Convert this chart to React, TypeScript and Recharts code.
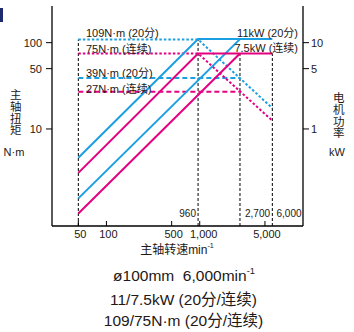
import React from 'react';
import { LineChart, Line, XAxis, YAxis } from 'recharts';

const BLUE = '#1a9fe3';
const PINK = '#e4007f';
const INK = '#231815';
const FONT = '"Liberation Sans", Arial, "Noto Sans CJK SC", sans-serif';

// spindle speed breakpoints (min-1)
const speedHigh = [50, 960, 6000];
const speedLow = [50, 2700];

// power in kW (right axis)
const power20High = [0.465, 11, 11];
const powerContHigh = [0.31, 7.5, 7.5];
const power20Low = [0.157, 11];
const powerContLow = [0.105, 7.5];

// torque in N·m (left axis)
const torque20 = [109, 109, 17.4];
const torqueCont = [75, 75, 12.5];
const torque20Low = [39, 39];
const torqueContLow = [27, 27];

// black dashed guides: speed, and torque where they stop
const guideSpeeds = [50, 960, 2700, 6000];
const guideTops = [109, 109, 75, 75];

const xTicks = [50, 100, 500, 1000, 5000];
const torqueTicks = [10, 50, 100];
const powerTicks = [1, 5, 10];

const T_DOMAIN = [0.751, 266];
const P_DOMAIN = [0.0751, 26.6];
const N_DOMAIN = [26.1, 12790];

const zip = (xs: number[], ys: number[]) => xs.map((n, i) => ({ n, v: ys[i] }));

const XTick = ({ x, y, payload }: any) => (
  <g>
    <line x1={x} x2={x} y1={y} y2={y - 5} stroke="#000" />
    <text
      x={x + (payload.value === 1000 ? 4 : 2)}
      y={y + 12}
      textAnchor="middle"
      fontSize={11}
      fill={INK}
      fontFamily={FONT}
    >
      {payload.value.toLocaleString('en-US')}
    </text>
  </g>
);

const Txt = ({ x, y, anchor = 'start', size = 11, children }: any) => {
  const tx = anchor === 'middle' ? '-50%' : anchor === 'end' ? '-100%' : '0';
  return (
    <div
      style={{
        position: 'absolute',
        left: x,
        top: y,
        transform: `translate(${tx},-50%)`,
        fontSize: size,
        lineHeight: 1,
        whiteSpace: 'nowrap',
        color: INK,
      }}
    >
      {children}
    </div>
  );
};

// vertical CJK axis title, one text run
const Vert = ({ x, top, text }: any) => (
  <div
    style={{
      position: 'absolute',
      left: x,
      top,
      transform: 'translateX(-50%)',
      writingMode: 'vertical-rl',
      textOrientation: 'upright',
      fontSize: 11.5,
      lineHeight: 1,
      letterSpacing: '0.2px',
      color: INK,
    }}
  >
    {text}
  </div>
);

const sup = { fontSize: '0.6em', verticalAlign: '0.7em' };

export default function App() {
  const axisTick = { fontSize: 11, fill: INK, fontFamily: FONT };
  return (
    <div
      style={{
        position: 'absolute',
        left: 0,
        top: 0,
        width: 354,
        height: 332,
        background: '#fff',
        fontFamily: FONT,
      }}
    >
      <LineChart width={354} height={332} margin={{ top: 6, right: 0, bottom: 0, left: 0 }}>
        <XAxis
          dataKey="n"
          type="number"
          scale="log"
          domain={N_DOMAIN}
          allowDataOverflow
          ticks={xTicks}
          interval={0}
          height={106}
          tickSize={0}
          tickMargin={0}
          tickLine={false}
          tick={<XTick />}
          axisLine={{ stroke: '#000', strokeWidth: 1.3 }}
        />
        <XAxis
          xAxisId="top"
          orientation="top"
          dataKey="n"
          type="number"
          scale="log"
          domain={N_DOMAIN}
          allowDataOverflow
          height={0}
          tick={false}
          tickLine={false}
          axisLine={{ stroke: '#000', strokeWidth: 1.3 }}
        />
        <YAxis
          yAxisId="T"
          orientation="left"
          scale="log"
          domain={T_DOMAIN}
          allowDataOverflow
          ticks={torqueTicks}
          interval={0}
          width={52}
          tickSize={6}
          tickMargin={4}
          tick={axisTick}
          tickLine={{ stroke: '#000' }}
          axisLine={{ stroke: '#000', strokeWidth: 1.3 }}
        />
        <YAxis
          yAxisId="P"
          orientation="right"
          scale="log"
          domain={P_DOMAIN}
          allowDataOverflow
          ticks={powerTicks}
          interval={0}
          width={51}
          tickSize={6}
          tickMargin={2}
          tick={axisTick}
          tickLine={{ stroke: '#000' }}
          axisLine={{ stroke: '#000', strokeWidth: 1.3 }}
        />

        {guideSpeeds.map((n, i) => (
          <Line
            key={'g' + n}
            yAxisId="T"
            data={[
              { n, v: T_DOMAIN[0] },
              { n, v: guideTops[i] },
            ]}
            dataKey="v"
            stroke="#000"
            strokeWidth={1}
            strokeDasharray="3 2"
            dot={false}
            isAnimationActive={false}
          />
        ))}

        <Line yAxisId="T" data={zip(speedLow, torque20Low)} dataKey="v" stroke={BLUE} strokeWidth={2} strokeDasharray="5 3" dot={false} isAnimationActive={false} />
        <Line yAxisId="T" data={zip(speedLow, torqueContLow)} dataKey="v" stroke={PINK} strokeWidth={2} strokeDasharray="5 3" dot={false} isAnimationActive={false} />
        <Line yAxisId="T" data={zip(speedHigh, torque20)} dataKey="v" stroke={BLUE} strokeWidth={2} strokeDasharray="2.5 2" dot={false} isAnimationActive={false} />
        <Line yAxisId="T" data={zip(speedHigh, torqueCont)} dataKey="v" stroke={PINK} strokeWidth={2} strokeDasharray="2.5 2" dot={false} isAnimationActive={false} />

        <Line yAxisId="P" data={zip(speedLow, power20Low)} dataKey="v" stroke={BLUE} strokeWidth={2} dot={false} isAnimationActive={false} />
        <Line yAxisId="P" data={zip(speedLow, powerContLow)} dataKey="v" stroke={PINK} strokeWidth={2} dot={false} isAnimationActive={false} />
        <Line yAxisId="P" data={zip(speedHigh, power20High)} dataKey="v" stroke={BLUE} strokeWidth={2} dot={false} isAnimationActive={false} />
        <Line yAxisId="P" data={zip(speedHigh, powerContHigh)} dataKey="v" stroke={PINK} strokeWidth={2} dot={false} isAnimationActive={false} />
      </LineChart>

      <div style={{ position: 'absolute', left: 0, top: 8, width: 3, height: 14, background: '#1d2a6e' }} />

      <Vert x={14} top={89} text="主轴扭矩" />
      <Txt x={14} y={152} anchor="middle">N·m</Txt>
      <Vert x={337} top={92} text="电机功率" />
      <Txt x={337} y={152} anchor="middle">kW</Txt>

      <Txt x={86} y={33}>109N·m (20分)</Txt>
      <Txt x={86} y={48.5}>75N·m (连续)</Txt>
      <Txt x={86} y={72.5}>39N·m (20分)</Txt>
      <Txt x={86} y={88.5}>27N·m (连续)</Txt>
      <Txt x={298} y={32.5} anchor="end">11kW (20分)</Txt>
      <Txt x={298} y={48} anchor="end">7.5kW (连续)</Txt>

      <Txt x={196} y={214} anchor="end" size={10}>960</Txt>
      <Txt x={245} y={214} size={10}>2,700</Txt>
      <Txt x={276.5} y={214} size={10}>6,000</Txt>

      <Txt x={177} y={249} anchor="middle" size={12}>
        主轴转速min<span style={sup}>-1</span>
      </Txt>

      <Txt x={184} y={275} anchor="middle" size={15.5}>
        ø100mm&nbsp;&nbsp;6,000min<span style={sup}>-1</span>
      </Txt>
      <Txt x={183.5} y={299.5} anchor="middle" size={15.5}>11/7.5kW (20分/连续)</Txt>
      <Txt x={183.5} y={320.5} anchor="middle" size={15.5}>109/75N·m (20分/连续)</Txt>
    </div>
  );
}
